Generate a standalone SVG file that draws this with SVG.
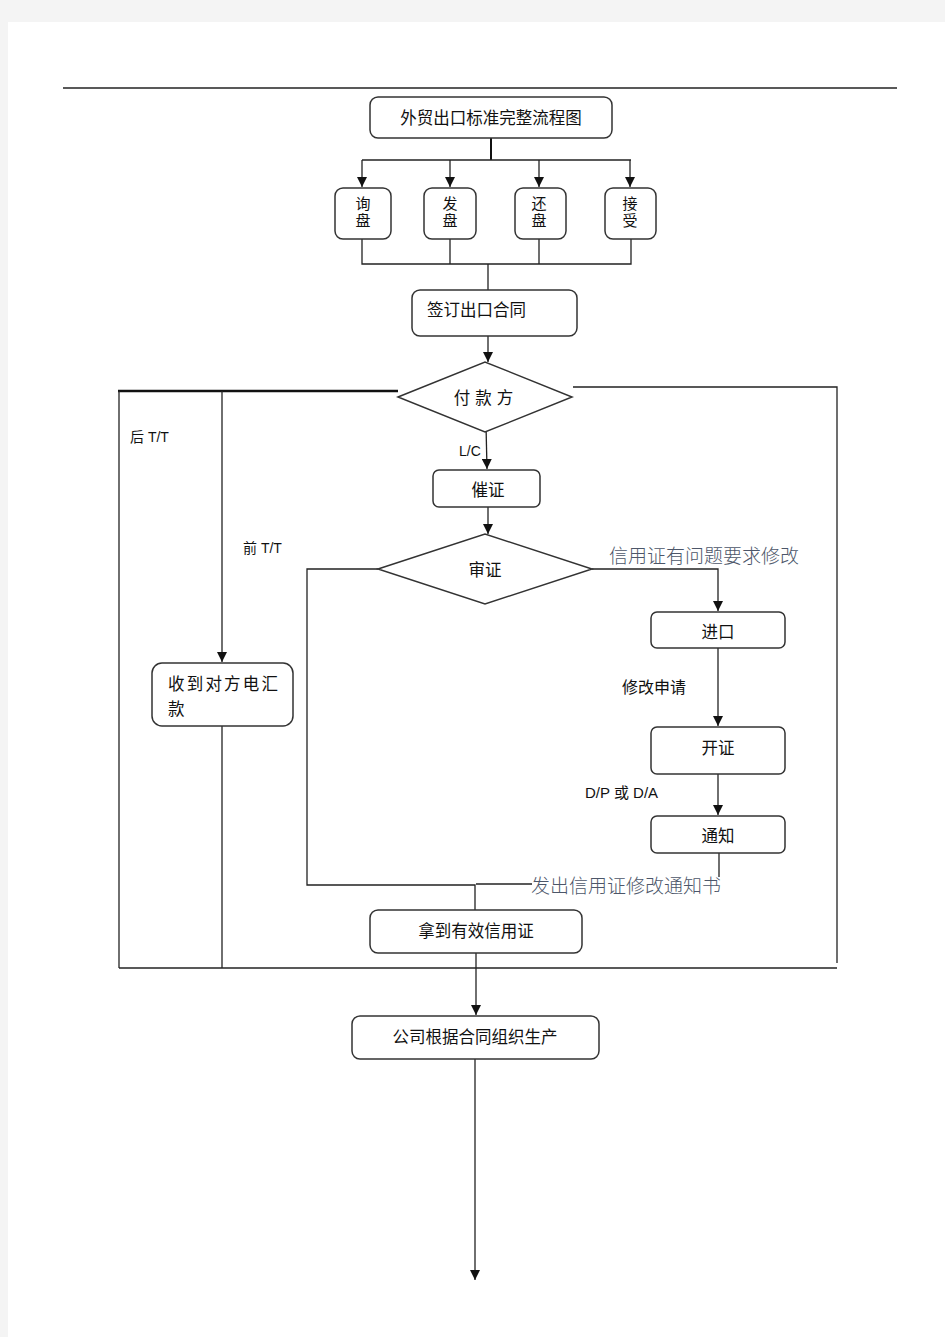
<svg xmlns="http://www.w3.org/2000/svg" width="945" height="1337" viewBox="0 0 945 1337">
<style>
.box{fill:#fff;stroke:#333;stroke-width:1.5}
.ln{fill:none;stroke:#222;stroke-width:1.3}
.t{font-family:"Noto Sans CJK SC","Liberation Sans",sans-serif;font-size:16.5px;fill:#111;dominant-baseline:central}
.v{font-family:"Noto Sans CJK SC","Liberation Sans",sans-serif;font-size:15px;fill:#111;writing-mode:vertical-rl;text-anchor:middle;letter-spacing:2px}
.s{font-family:"Liberation Sans","Noto Sans CJK SC",sans-serif;font-size:14px;fill:#111;dominant-baseline:central}
.c{font-family:"Noto Sans CJK SC","Liberation Serif",serif;font-size:19px;fill:#4c5669;dominant-baseline:central;font-weight:300}
.m{text-anchor:middle}
</style>
<defs>
<marker id="ar" markerUnits="userSpaceOnUse" markerWidth="10" markerHeight="10" refX="10" refY="5" orient="auto">
<path d="M0,0 L10,5 L0,10 z" fill="#111"/>
</marker>
</defs>
<rect x="0" y="0" width="945" height="1337" fill="#f4f4f4"/>
<rect x="8" y="22" width="937" height="1315" fill="#fff"/>
<line x1="63" y1="88" x2="897" y2="88" stroke="#222" stroke-width="1.3"/>

<g id="connectors">
<line x1="491" y1="138" x2="491" y2="160" stroke="#111" stroke-width="2"/>
<line class="ln" x1="362" y1="160" x2="631" y2="160"/>
<line class="ln" x1="362" y1="160" x2="362" y2="187" marker-end="url(#ar)"/>
<line class="ln" x1="450" y1="160" x2="450" y2="187" marker-end="url(#ar)"/>
<line class="ln" x1="539" y1="160" x2="539" y2="187" marker-end="url(#ar)"/>
<line class="ln" x1="630" y1="160" x2="630" y2="187" marker-end="url(#ar)"/>
<path class="ln" d="M362,239 V264 H631 V239 M450,239 V264 M539,239 V264 M488,264 V290"/>
<line class="ln" x1="488" y1="336" x2="488" y2="362" marker-end="url(#ar)"/>
<line x1="118" y1="391" x2="398" y2="391" stroke="#111" stroke-width="2.5"/>
<line class="ln" x1="119" y1="391" x2="119" y2="968"/>
<line class="ln" x1="222" y1="391" x2="222" y2="662" marker-end="url(#ar)"/>
<line class="ln" x1="222" y1="726" x2="222" y2="968"/>
<path class="ln" d="M573,387 H837 V963"/>
<line class="ln" x1="119" y1="968" x2="837" y2="968"/>
<line class="ln" x1="486" y1="425" x2="487" y2="469" marker-end="url(#ar)"/>
<line class="ln" x1="488" y1="507" x2="488" y2="534" marker-end="url(#ar)"/>
<path class="ln" d="M592,569 H718 V611" marker-end="url(#ar)"/>
<line class="ln" x1="718" y1="648" x2="718" y2="726" marker-end="url(#ar)"/>
<line class="ln" x1="718" y1="774" x2="718" y2="815" marker-end="url(#ar)"/>
<line class="ln" x1="719" y1="853" x2="719" y2="877"/>
<path class="ln" d="M378,569 H307 V885 H475 V910"/>
<line class="ln" x1="476" y1="884" x2="532" y2="884"/>
<line class="ln" x1="476" y1="953" x2="476" y2="1015" marker-end="url(#ar)"/>
<line class="ln" x1="475" y1="1059" x2="475" y2="1280" marker-end="url(#ar)"/>
</g>

<g id="n-title"><rect class="box" x="370" y="97" width="242" height="41" rx="8"/><text class="t m" x="491" y="117">外贸出口标准完整流程图</text></g>
<g id="n-xunpan"><rect class="box" x="335" y="188" width="56" height="51" rx="8"/><text class="v" x="363" y="213">询盘</text></g>
<g id="n-fapan"><rect class="box" x="424" y="188" width="52" height="51" rx="8"/><text class="v" x="450" y="213">发盘</text></g>
<g id="n-huanpan"><rect class="box" x="515" y="188" width="51" height="51" rx="8"/><text class="v" x="539" y="213">还盘</text></g>
<g id="n-jieshou"><rect class="box" x="605" y="188" width="51" height="51" rx="8"/><text class="v" x="630" y="213">接受</text></g>
<g id="n-contract"><rect class="box" x="412" y="290" width="165" height="46" rx="8"/><text class="t" x="427" y="309">签订出口合同</text></g>
<g id="n-payment"><polygon class="box" points="398,397 485,362 572,397 485,432"/><text class="t m" x="486" y="397" style="letter-spacing:5px">付款方</text></g>
<g id="n-cuizheng"><rect class="box" x="433" y="470" width="107" height="37" rx="6"/><text class="t m" x="488" y="489">催证</text></g>
<g id="n-shenzheng"><polygon class="box" points="378,569 485,534 592,569 485,604"/><text class="t m" x="485" y="569">审证</text></g>
<g id="n-jinkou"><rect class="box" x="651" y="612" width="134" height="36" rx="6"/><text class="t m" x="718" y="631">进口</text></g>
<g id="n-kaizheng"><rect class="box" x="651" y="727" width="134" height="47" rx="6"/><text class="t m" x="718" y="747">开证</text></g>
<g id="n-tongzhi"><rect class="box" x="651" y="816" width="134" height="37" rx="6"/><text class="t m" x="718" y="835">通知</text></g>
<g id="n-remit"><rect class="box" x="152" y="663" width="141" height="63" rx="10"/><text class="t" x="168" y="683" style="letter-spacing:2.2px">收到对方电汇</text><text class="t" x="168" y="708">款</text></g>
<g id="n-validlc"><rect class="box" x="370" y="910" width="212" height="43" rx="8"/><text class="t m" x="476" y="930">拿到有效信用证</text></g>
<g id="n-production"><rect class="box" x="352" y="1016" width="247" height="43" rx="8"/><text class="t m" x="475" y="1036">公司根据合同组织生产</text></g>

<g id="labels">
<text class="s" x="130" y="437">后 T/T</text>
<text class="s" x="243" y="548">前 T/T</text>
<text class="s" x="459" y="451">L/C</text>
<text class="c" x="609" y="554">信用证有问题要求修改</text>
<text class="s" x="622" y="687" style="font-size:16px">修改申请</text>
<text class="s" x="585" y="792" style="font-size:15px">D/P 或 D/A</text>
<text class="c" x="531" y="884">发出信用证修改通知书</text>
</g>
</svg>
